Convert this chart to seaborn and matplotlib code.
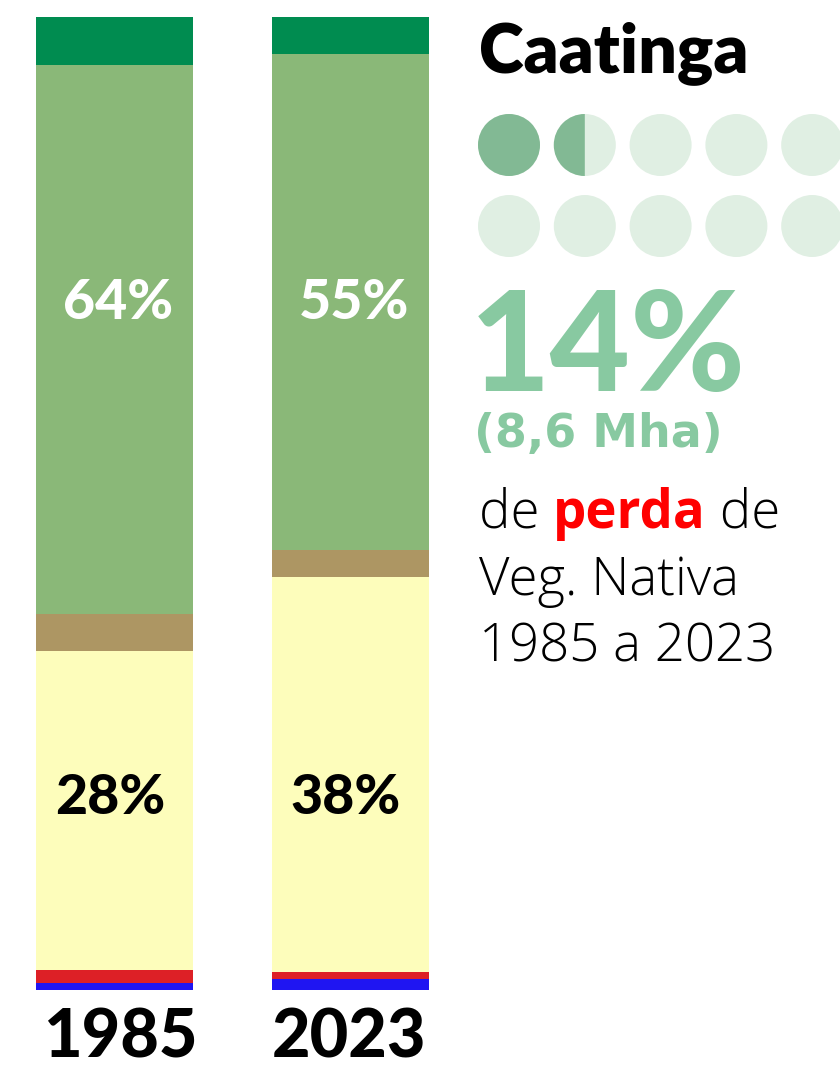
import matplotlib
matplotlib.use("Agg")
import matplotlib.pyplot as plt
import seaborn as sns
import pandas as pd
import numpy as np
from matplotlib.patches import Circle, Wedge

# ---------------- data ----------------
years = ["1985", "2023"]
classes = ["Água", "Não vegetado", "Agropecuária", "Afloramento", "Formação savânica", "Formação florestal"]
colors = ["#1f15f2", "#dd2026", "#fdfdbb", "#ad9663", "#8ab878", "#008c50"]
share_1985 = [0.7, 1.4, 32.7, 3.8, 56.4, 4.9]
share_2023 = [1.1, 0.8, 40.5, 2.8, 51.0, 3.8]
label_top = ["64%", "55%"]
label_bottom = ["28%", "38%"]
dot_fill = [1, 0.5, 0, 0, 0, 0, 0, 0, 0, 0]
title = "Caatinga"
big_value = "14%"
sub_value = "(8,6 Mha)"

sns.set_theme(style="white")
plt.rcParams["font.family"] = ["Lato", "DejaVu Sans"]

W, H, DPI = 840, 1069, 100
fig = plt.figure(figsize=(W / DPI, H / DPI), dpi=DPI)

# ---------------- stacked bars ----------------
rows = []
for y, vals in zip(years, [share_1985, share_2023]):
    tot = sum(vals)
    cum = np.cumsum([v / tot * 100 for v in vals])
    for c, cv in zip(classes, cum):
        rows.append({"year": y, "cls": c, "cum": cv})
df = pd.DataFrame(rows)

ax = fig.add_axes([0, (H - 990) / H, 472 / W, 973 / H])
bar_w = 157 / 236
for c, col in reversed(list(zip(classes, colors))):
    sub = df[df["cls"] == c]
    sns.barplot(data=sub, x="year", y="cum", order=years, color=col,
                width=bar_w, saturation=1, ax=ax, linewidth=0, errorbar=None)
x0 = -0.5 + 3.5 / 236
ax.set_xlim(x0, x0 + 2)
ax.set_ylim(0, 100)
ax.axis("off")

for i, (lt, lb) in enumerate(zip(label_top, label_bottom)):
    ax.text(i + 0.015, 70.6, lt, ha="center", va="center", color="white",
            fontsize=40, fontweight="black")
    ax.text(i - 0.02, 19.7, lb, ha="center", va="center", color="black",
            fontsize=40, fontweight="black")

# ---------------- overlay (pixel coords) ----------------
ov = fig.add_axes([0, 0, 1, 1], facecolor="none")
ov.set_xlim(0, W)
ov.set_ylim(H, 0)
ov.axis("off")

for i, y in enumerate(years):
    cx = 114.5 + 236 * i + (6 if i == 0 else -2)
    ov.text(cx, 1058, y, ha="center", va="baseline", fontsize=48,
            fontweight="black", color="black")

ov.text(479, 72, title, ha="left", va="baseline", fontsize=49,
        fontweight="heavy", color="black")

dark_dot, light_dot = "#82b994", "#e0efe3"
for k, f in enumerate(dot_fill):
    cx = 509 + 75.8 * (k % 5)
    cy = 145 + 81 * (k // 5)
    ov.add_patch(Circle((cx, cy), 31, color=light_dot, lw=0))
    if f >= 1:
        ov.add_patch(Circle((cx, cy), 31, color=dark_dot, lw=0))
    elif f > 0:
        ov.add_patch(Wedge((cx, cy), 31, 90, 90 + 360 * f, color=dark_dot, lw=0))

ov.text(470, 391, big_value, ha="left", va="baseline", fontsize=100,
        fontweight="black", color="#88c9a1")
ov.text(474, 447, sub_value, ha="left", va="baseline", fontsize=33,
        fontweight="bold", color="#88c9a1", family=["DejaVu Sans"])

body = dict(ha="left", va="baseline", fontsize=38, color="black",
            family=["Open Sans", "DejaVu Sans"], fontweight="light")
t_de = ov.text(479, 528, "de ", **body)
fig.canvas.draw()
r = fig.canvas.get_renderer()
inv = ov.transData.inverted()
x_after = inv.transform((t_de.get_window_extent(r).x1, 0))[0]
tp = ov.text(x_after, 528, "perda", ha="left", va="baseline", fontsize=38,
             fontweight="bold", color="#ff0000", family=["Open Sans", "DejaVu Sans"])
fig.canvas.draw()
x_after2 = inv.transform((tp.get_window_extent(r).x1, 0))[0]
ov.text(x_after2, 528, " de", **body)
ov.text(479, 595, "Veg. Nativa", **body)
ov.text(479, 662, "1985 a 2023", **body)

fig.savefig("out.png", dpi=DPI, facecolor="white")
